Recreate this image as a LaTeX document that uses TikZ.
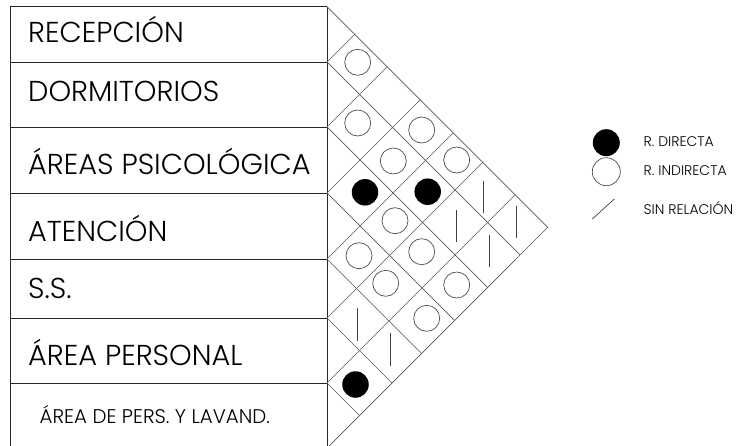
\documentclass[tikz,border=0pt]{standalone}
\usepackage{fontspec}
\setmainfont{Poppins Light}
\begin{document}
\begin{tikzpicture}[x=1pt,y=-1pt,
  tbl/.style={draw=black!85,line width=0.8pt},
  lat/.style={draw=black!65,line width=0.7pt},
  ocirc/.style={circle,draw=black!70,line width=0.7pt,minimum size=26pt,inner sep=0pt},
  bdot/.style={circle,fill=black,minimum size=26.5pt,inner sep=0pt},
  slashline/.style={draw=black!75,line width=0.8pt},
  lbl/.style={anchor=base west,inner sep=0pt,font=\fontsize{28.8}{31}\selectfont},
  lbls/.style={anchor=base west,inner sep=0pt,font=\fontsize{19.8}{22}\selectfont},
  leg/.style={anchor=base west,inner sep=0pt,font=\fontsize{14}{16}\selectfont}]
\useasboundingbox (0,0) rectangle (739,446);
\clip (0,0) rectangle (739,446);
% table
\draw[tbl] (10,6.7) -- (327,6.7);
\draw[tbl] (10,6.7) -- (10,448);
\draw[tbl] (327,6.7) -- (327,448);
\foreach \b in {62,127,193,259,318,383}{
  \draw[tbl] (10,\b) -- (327,\b);
}
% lattice
\draw[lat] (327,6.7) -- (547.65,227.35) -- (327,448);
\foreach \b in {62,127,193,259,318,383}{
  \draw[lat] (327,\b) -- ({327+(448-\b)/2},{(448+\b)/2});
  \draw[lat] (327,\b) -- ({327+(\b-6.7)/2},{(\b+6.7)/2});
}
% labels
\node[lbl] (r1) at (28,42.7) {RECEPCIÓN};
\node[lbl] (r2) at (28,101.7) {DORMITORIOS};
\node[lbl] (r3) at (28,175) {ÁREAS PSICOLÓGICA};
\node[lbl] (r4) at (28,241.7) {ATENCIÓN};
\node[lbl] (r5) at (28,299) {S.S.};
\node[lbl] (r6) at (28,365) {ÁREA PERSONAL};
\node[lbls] (r7) at (39.5,423.3) {ÁREA DE PERS. Y LAVAND.};
% symbols
\node[ocirc] (c12) at (357.7,62.3) {};
\node[ocirc] (c23) at (357.7,123) {};
\node[ocirc] (c14) at (421.7,130) {};
\node[ocirc] (c24) at (393.3,161) {};
\node[ocirc] (c15) at (456.7,160) {};
\node[bdot] (c34) at (365,192.3) {};
\node[bdot] (c25) at (427.7,191.7) {};
\coordinate (s16a) at (483.3,181); \coordinate (s16b) at (483.3,213.3);
\draw[slashline] (s16a) -- (s16b);
\node[ocirc] (c35) at (395,220.7) {};
\coordinate (s26a) at (456.7,210); \coordinate (s26b) at (456.7,241.7);
\draw[slashline] (s26a) -- (s26b);
\coordinate (s17a) at (516,206); \coordinate (s17b) at (516,238.3);
\draw[slashline] (s17a) -- (s17b);
\node[ocirc] (c45) at (359,255.7) {};
\node[ocirc] (c36) at (421.7,251.7) {};
\coordinate (s27a) at (489,235); \coordinate (s27b) at (489,266.7);
\draw[slashline] (s27a) -- (s27b);
\node[ocirc] (c46) at (385.7,283.3) {};
\node[ocirc] (c37) at (456.7,285) {};
\coordinate (s56a) at (357.3,308.3); \coordinate (s56b) at (357.3,340.7);
\draw[slashline] (s56a) -- (s56b);
\node[ocirc] (c47) at (426.7,318.3) {};
\coordinate (s57a) at (390,333.3); \coordinate (s57b) at (390,366);
\draw[slashline] (s57a) -- (s57b);
\node[bdot] (c67) at (355.5,384.5) {};
% legend
\node[bdot,minimum size=27pt] (ld) at (606.3,142.7) {};
\node[ocirc,minimum size=28pt] (li) at (606.3,171.7) {};
\coordinate (lsa) at (592.3,219); \coordinate (lsb) at (614.3,199);
\draw[slashline,line width=0.7pt] (lsa) -- (lsb);
\node[leg] (t1) at (643.5,146.7) {R. DIRECTA};
\node[leg] (t2) at (643.5,176) {R. INDIRECTA};
\node[leg] (t3) at (643.5,215) {SIN RELACIÓN};
\end{tikzpicture}
\end{document}
